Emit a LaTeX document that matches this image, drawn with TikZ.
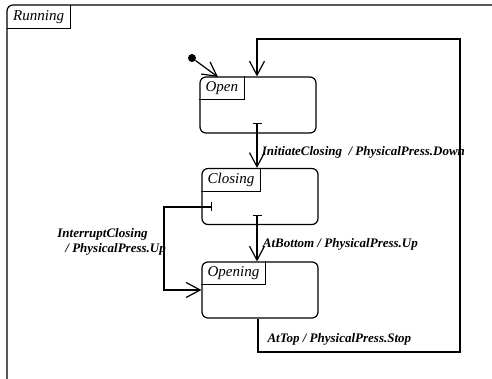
\documentclass[tikz,border=0pt]{standalone}
\usepackage{fontspec}
\setmainfont{Liberation Serif}
\usetikzlibrary{arrows.meta}
\tikzset{
  state/.style={draw, line width=1.2pt, rounded corners=6pt, minimum width=116pt, minimum height=56pt},
  tabname/.style={anchor=north west, font=\fontsize{15}{17}\selectfont\itshape, inner xsep=6pt, inner ysep=0pt, minimum height=23pt},
  trans/.style={line width=1.2pt, -{Straight Barb[length=14pt,width=15pt]}},
  bartrans/.style={line width=1.2pt, {Bar[width=9pt]}-{Straight Barb[length=14pt,width=15pt]}},
  translabel/.style={font=\fontsize{13}{14.5}\selectfont\bfseries\itshape}
}
\begin{document}
\begin{tikzpicture}[x=1pt,y=-1pt]
    \useasboundingbox (0,0) rectangle (492,379);
    % outer state, cut off at the right and the bottom
    \draw[line width=1.2pt, rounded corners=6pt] (7,379) -- (7,5) -- (492,5);
    \node[tabname] (runtab) at (7,5) {Running};
    \draw[line width=1.2pt] (runtab.north east) |- (runtab.south west);
    % states
    \node[state] (open) at (258,105) {};
    \node[state] (closing) at (260,196.5) {};
    \node[state] (opening) at (260,290) {};
    \node[tabname] (opentab) at (open.north west) {Open};
    \draw[line width=1.2pt] (opentab.north east) |- (opentab.south west);
    \node[tabname] (closingtab) at (closing.north west) {Closing};
    \draw[line width=1.2pt] (closingtab.north east) |- (closingtab.south west);
    \node[tabname] (openingtab) at (opening.north west) {Opening};
    \draw[line width=1.2pt] (openingtab.north east) |- (openingtab.south west);
    % initial state
    \node[circle, fill, inner sep=0pt, minimum size=8pt] (init) at (192,58) {};
    \coordinate (openin) at (218,77);
    \draw[trans] (init) -- (openin);
    % transitions
    \coordinate (ocbar) at (257,123);
    \coordinate (cobar) at (257,215);
    \coordinate (icbar) at (212,207);
    \coordinate (looptop) at (257,39);
    \draw[bartrans] (ocbar) -- (ocbar |- closing.north)
        node[pos=0.66, right=1pt, translabel] {InitiateClosing\enspace/ PhysicalPress.Down};
    \draw[bartrans] (cobar) -- (cobar |- opening.north)
        node[pos=0.64, right=2pt, translabel] {AtBottom / PhysicalPress.Up};
    \draw[bartrans] (icbar) -- ++(-48,0) |- (opening.west);
    \node[translabel, anchor=east, align=left, inner sep=0pt] (iclabel) at (166,242)
        {InterruptClosing\\\hspace*{8pt}/ PhysicalPress.Up};
    \draw[trans] ([xshift=-2pt]opening.south) |- (460,352) |- (looptop) -- (looptop |- open.north);
    \node[translabel, anchor=west] (toplabel) at (264,339) {AtTop / PhysicalPress.Stop};
\end{tikzpicture}
\end{document}
